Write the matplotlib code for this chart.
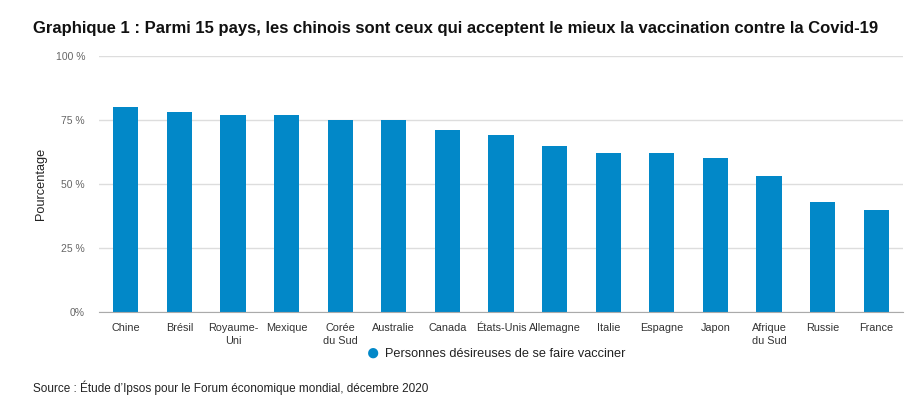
import matplotlib.pyplot as plt
import numpy as np

plt.rcParams['font.family'] = ['Liberation Sans', 'DejaVu Sans']

pays = ['Chine', 'Brésil', 'Royaume-\nUni', 'Mexique', 'Corée\ndu Sud', 'Australie',
        'Canada', 'États-Unis', 'Allemagne', 'Italie', 'Espagne', 'Japon',
        'Afrique\ndu Sud', 'Russie', 'France']
valeurs = [80, 78, 77, 77, 75, 75, 71, 69, 65, 62, 62, 60, 53, 43, 40]
yticks = [0, 25, 50, 75, 100]
ylabels = ['0%', '25 %', '50 %', '75 %', '100 %']

bleu = '#0288c8'

fig = plt.figure(figsize=(9.24, 4.18), dpi=100)
ax = fig.add_axes([99 / 924, 1 - 312 / 418, 804 / 924, 256 / 418])

x = np.arange(len(pays))
ax.bar(x, valeurs, width=0.47, color=bleu, zorder=3)
ax.set_xlim(-0.5, len(pays) - 0.5)
ax.set_ylim(0, 100)
ax.set_yticks(yticks)
ax.set_yticklabels(ylabels, color='#666666', fontsize=7.5)
ax.set_xticks(x)
ax.set_xticklabels(pays, fontsize=7.8, color='#333333', linespacing=1.3)
ax.tick_params(axis='both', length=0)
ax.tick_params(axis='y', pad=10)
ax.tick_params(axis='x', pad=8)
ax.grid(axis='y', color='#dddddd', linewidth=1, zorder=0)
for s in ['top', 'right', 'left']:
    ax.spines[s].set_visible(False)
ax.spines['bottom'].set_color('#aaaaaa')
ax.spines['bottom'].set_zorder(4)
ax.set_ylabel('Pourcentage', fontsize=9.2, color='#222222', labelpad=0)
ax.yaxis.set_label_coords(-52 / 804, 0.5)

fig.text(33 / 924, 1 - 28 / 418, 'Graphique 1 : Parmi 15 pays, les chinois sont ceux qui acceptent le mieux la vaccination contre la Covid-19',
         fontsize=12, fontweight='bold', va='center', ha='left', color='#111111')

fig.text(373 / 924, 1 - 354 / 418, '\u25cf', fontsize=17, color=bleu, va='center', ha='center')
fig.text(385 / 924, 1 - 354 / 418, 'Personnes désireuses de se faire vacciner',
         fontsize=9.2, color='#222222', va='center', ha='left')

fig.text(33 / 924, 1 - 388 / 418, 'Source : Étude d\u2019Ipsos pour le Forum économique mondial, décembre 2020',
         fontsize=8.5, color='#222222', va='center', ha='left')

fig.savefig('out.png', dpi=100)
